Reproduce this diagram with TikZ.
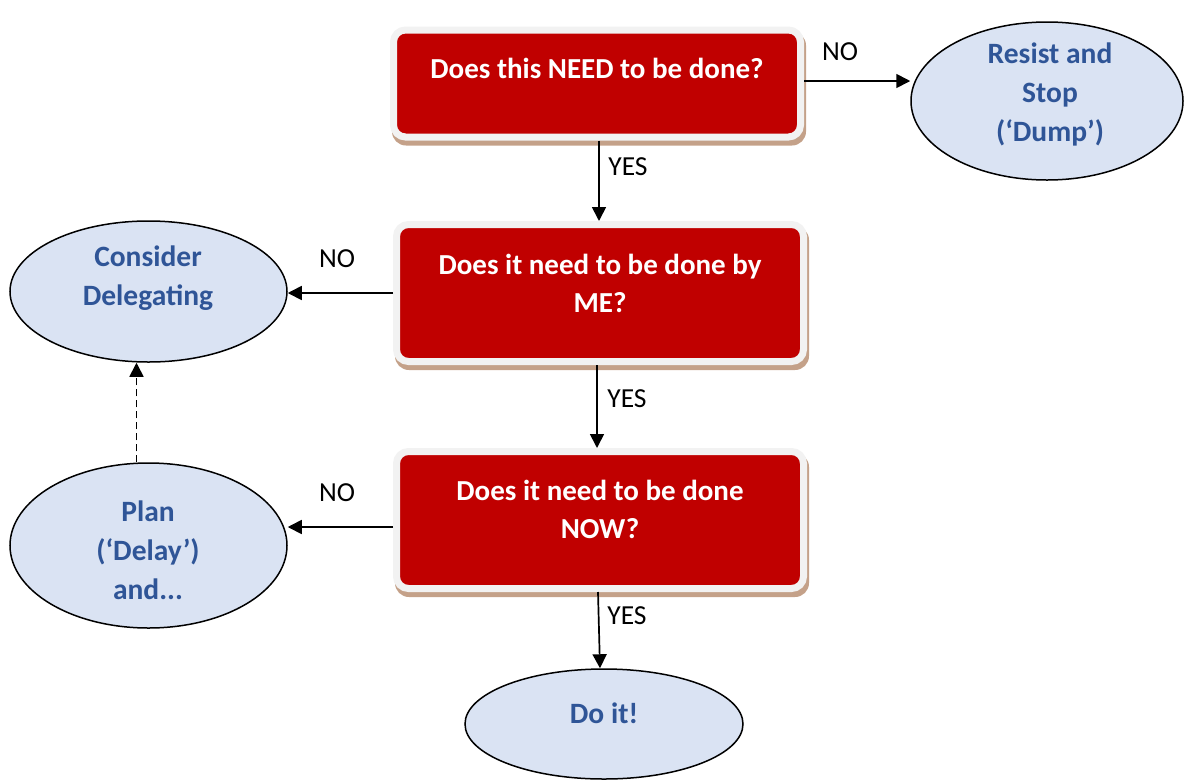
\documentclass[tikz,border=0pt]{standalone}
\usepackage{fontspec}
\setmainfont{Carlito}
\usetikzlibrary{shapes.geometric,arrows.meta,backgrounds}
\definecolor{qred}{HTML}{C00000}
\definecolor{qborder}{HTML}{F2F2F2}
\definecolor{qshadow}{HTML}{C4A189}
\definecolor{ofill}{HTML}{DAE3F3}
\definecolor{oblue}{HTML}{2F5597}
\begin{document}
\begin{tikzpicture}[x=1pt,y=-1pt,
  qbox/.style={draw=qborder,line width=7pt,fill=qred,rounded corners=12pt,minimum width=407pt,inner sep=0pt},
  qtext/.style={text=white,font=\fontsize{29}{38}\selectfont\bfseries,align=center},
  oval/.style={ellipse,draw=black,line width=1.5pt,fill=ofill,inner sep=0pt},
  otext/.style={text=oblue,font=\fontsize{29.5}{39}\selectfont\bfseries,align=center},
  lbl/.style={font=\fontsize{27.5}{30}\selectfont},
  arr/.style={line width=1.7pt,-{Triangle[length=14pt,width=14pt]}}]
\useasboundingbox (0,0) rectangle (1184,780);

% question boxes
\node[qbox,minimum height=107pt] (b1) at (597,83.5) {};
\node[qbox,minimum height=137pt] (b2) at (600,293) {};
\node[qbox,minimum height=137pt] (b3) at (600,520) {};
\begin{scope}[on background layer]
  \foreach \b in {b1,b2,b3}
    \fill[qshadow,rounded corners=14pt] ([shift={(2,5)}]\b.north west) rectangle ([shift={(2,5)}]\b.south east);
\end{scope}
\node[qtext] (t1) at (597,68) {Does this NEED to be done?};
\node[qtext] (t2) at (600,283.5) {Does it need to be done by\\ME?};
\node[qtext] (t3) at (600,509) {Does it need to be done\\NOW?};

% ellipses
\node[oval,minimum width=272pt,minimum height=158pt] (resist) at (1047,101) {};
\node[oval,minimum width=277pt,minimum height=141pt] (deleg) at (148.5,291.5) {};
\node[oval,minimum width=277pt,minimum height=165pt] (plan) at (148.5,545.5) {};
\node[oval,minimum width=278pt,minimum height=110pt] (doit) at (604,724) {};
\node[otext] (tr) at (1050,94) {Resist and\\Stop\\(‘Dump’)};
\node[otext] (td) at (148,278.5) {Consider\\Delegating};
\node[otext] (tp) at (148,550) {Plan\\(‘Delay’)\\and...};
\node[otext] (tdo) at (604,713) {Do it!};

% connectors
\draw[arr] ([yshift=2.5pt]b1.east) -- ([yshift=2.5pt]b1.east -| resist.west);
\draw[arr] ([xshift=2pt]b1.south) -- ([xshift=2pt]b1.south |- b2.north);
\draw[arr] (b2.west) -- (b2.west -| deleg.east);
\draw[arr] ([xshift=-3pt]b2.south) -- ([xshift=-3pt]b2.south |- b3.north);
\draw[arr] ([yshift=-7pt]b3.west) -- ([yshift=-7pt]b3.west -| plan.east);
\draw[arr] ([xshift=-2pt]b3.south) -- ([xshift=-4pt]doit.north);
\draw[arr,dash pattern=on 7pt off 4pt] ([xshift=-12pt]plan.north) -- ([xshift=-12pt]plan.north |- deleg.south);

% labels
\node[lbl] (n1) at (840,52) {NO};
\node[lbl] (y1) at (628,167) {YES};
\node[lbl] (n2) at (337,259) {NO};
\node[lbl] (y2) at (627,399) {YES};
\node[lbl] (n3) at (337,493) {NO};
\node[lbl] (y3) at (627,616) {YES};
\end{tikzpicture}
\end{document}
